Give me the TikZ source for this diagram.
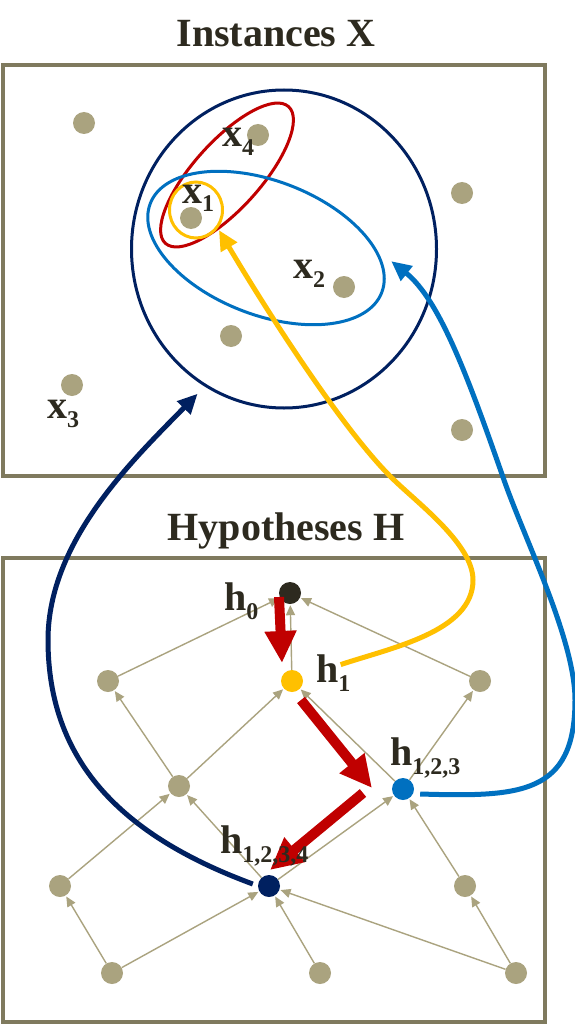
\documentclass[tikz,border=0pt]{standalone}
\usepackage{fontspec}
\setmainfont{Liberation Serif}
\usetikzlibrary{arrows.meta,shapes.geometric}

\definecolor{framec}{HTML}{7F7A5E}
\definecolor{dotc}{HTML}{AAA37F}
\definecolor{ink}{HTML}{2D2A1F}
\definecolor{hred}{HTML}{C00000}
\definecolor{hyellow}{HTML}{FFC000}
\definecolor{hblue}{HTML}{0070C0}
\definecolor{hnavy}{HTML}{002060}

\newcommand{\withsub}[2]{#1\raisebox{-9pt}{\fontsize{24}{24}\selectfont#2}}

\begin{document}
\begin{tikzpicture}[x=1pt,y=-1pt,
  main node/.style={circle,fill=dotc,inner sep=0pt,minimum size=22pt},
  title node/.style={anchor=base,inner sep=0pt,text=ink,font=\fontsize{40}{40}\selectfont\bfseries},
  label node/.style={title node,anchor=base west},
  panel/.style={draw=framec,line width=3.5pt},
  set node/.style={ellipse,draw,inner sep=0pt,line width=3pt},
  order/.style={dotc,line width=1.4pt,-{Triangle[length=10pt,width=9pt]},shorten >=1pt},
  walk/.style={hred,line width=10pt,-{Triangle[length=32pt,width=30pt]}},
  cover/.style={line width=5pt,-{Triangle[length=20pt,width=18pt]}}]

  \useasboundingbox (0,0) rectangle (575,1027);
  \fill[white] (0,0) rectangle (575,1027);

  % the two panels
  \draw[panel] (3,65) rectangle (545,476);
  \draw[panel] (3,558) rectangle (545,1022);
  \node[title node] (tX) at (276,47) {Instances X};
  \node[title node] (tH) at (286,540) {Hypotheses H};

  % instances
  \node[main node] (i1) at (84,123) {};
  \node[main node] (x4) at (258,135) {};
  \node[main node] (i3) at (462,193) {};
  \node[main node] (x1) at (191,218) {};
  \node[main node] (x2) at (344,287) {};
  \node[main node] (i6) at (231,336) {};
  \node[main node] (x3) at (72,385) {};
  \node[main node] (i8) at (462,430) {};

  \node[set node,draw=hnavy,minimum width=305pt,minimum height=318pt] (setX) at (284,249) {};
  \node[set node,draw=hred,minimum width=184pt,minimum height=67pt,rotate=48] (set4) at (227,175) {};
  \node[set node,draw=hblue,minimum width=248pt,minimum height=134pt,rotate=-21] (set2) at (266,248) {};
  \node[set node,draw=hyellow,minimum width=53pt,minimum height=56pt] (set1) at (196,210) {};

  \node[label node] (x4l) at (222,147) {\withsub{x}{4}};
  \node[label node] (x1l) at (182,203) {\withsub{x}{1}};
  \node[label node] (x2l) at (293,278) {\withsub{x}{2}};
  \node[label node] (x3l) at (47,418) {\withsub{x}{3}};

  % hypotheses
  \node[main node,fill=ink] (h0) at (290,593) {};
  \node[main node,fill=hyellow] (h1) at (292,681) {};
  \node[main node] (la) at (108,681) {};
  \node[main node] (ra) at (480,681) {};
  \node[main node] (mb) at (179,786) {};
  \node[main node,fill=hblue] (h123) at (403,789) {};
  \node[main node] (bl) at (60,886) {};
  \node[main node,fill=hnavy] (h1234) at (269,886) {};
  \node[main node] (br) at (465,886) {};
  \node[main node] (b1) at (112,973) {};
  \node[main node] (b2) at (320,973) {};
  \node[main node] (b3) at (516,973) {};

  \path[order]
    (la) edge (h0)
    (h1) edge (h0)
    (ra) edge (h0)
    (mb) edge (la)
         edge (h1)
    (h123) edge (h1)
           edge (ra)
    (bl) edge (mb)
    (h1234) edge (mb)
            edge (h123)
    (br) edge (h123)
    (b1) edge (bl)
         edge (h1234)
    (b2) edge (h1234)
    (b3) edge (h1234)
         edge (br);

  \draw[walk] ([shift={(-11,4)}]h0.center) -- ([shift={(-10,-18)}]h1.center);
  \draw[walk] ([shift={(9,19)}]h1.center) -- ([shift={(-31,-1)}]h123.center);
  \draw[walk] ([shift={(-40,4)}]h123.center) -- ([shift={(1,-16)}]h1234.center);

  \node[label node] (h0l) at (224,610) {\withsub{h}{0}};
  \node[label node] (h1l) at (316,682) {\withsub{h}{1}};
  \node[label node] (h123l) at (390,765) {\withsub{h}{1,2,3}};
  \node[label node] (h1234l) at (220,853) {\withsub{h}{1,2,3,4}};

  % which instances each hypothesis covers
  \draw[cover,hyellow,shorten >=2pt] ([shift={(-10,-8)}]h1l.east)
    .. controls (390,648) and (473,632) .. (473,580)
    .. controls (473,545) and (420,505) .. (394,480)
    .. controls (342,430) and (262,303) .. (set1.-40);
  \draw[cover,hblue,shorten >=18pt] ([shift={(6,5)}]h123.east)
    .. controls (520,797) and (575,795) .. (575,700)
    .. controls (575,640) and (525,540) .. (504,480)
    .. controls (469,380) and (440,300) .. (set2.20);
  \draw[cover,hnavy,shorten >=10pt] ([shift={(-5,-2)}]h1234.west)
    .. controls (120,835) and (48,760) .. (48,640)
    .. controls (48,540) and (135,458) .. (setX.-120);
\end{tikzpicture}
\end{document}
